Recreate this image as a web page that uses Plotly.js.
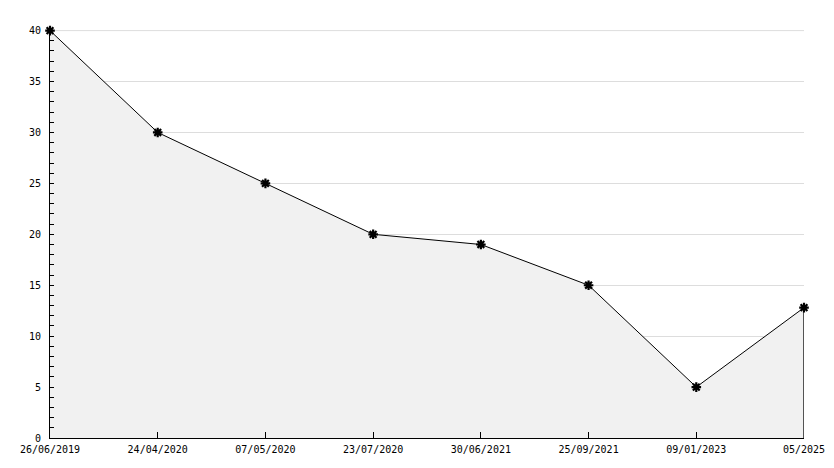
<!DOCTYPE html>
<html>
<head>
<meta charset="utf-8">
<script src="https://cdn.plot.ly/plotly-3.0.1.min.js"></script>
<style>html,body{margin:0;padding:0;background:#fff;}#chart{width:834px;height:468px;}</style>
</head>
<body>
<div id="chart"></div>
<script>
const dates = ["26/06/2019","24/04/2020","07/05/2020","23/07/2020","30/06/2021","25/09/2021","09/01/2023","05/2025"];
const values = [40, 30, 25, 20, 19, 15, 5, 12.8];
const yMax = 40;

const lastX = dates[dates.length-1];
const lastY = values[values.length-1];

const traces = [
  {
    x: dates, y: values, type: 'scatter', mode: 'lines+markers',
    fill: 'tozeroy', fillcolor: '#f1f1f1',
    line: {color: '#000', width: 1},
    marker: {symbol: 'asterisk-open', size: 8, color: '#000', line: {color: '#000', width: 2.2}},
    hoverinfo: 'x+y', cliponaxis: false
  },
  {
    x: [lastX, lastX], y: [0, lastY], type: 'scatter', mode: 'lines',
    line: {color: '#000', width: 1.3}, hoverinfo: 'skip', cliponaxis: false
  }
];

const font = {family: '"DejaVu Sans Mono", monospace', size: 10, color: '#000'};

const layout = {
  width: 834, height: 468,
  margin: {l: 50, r: 29.5, t: 30, b: 30},
  paper_bgcolor: '#fff', plot_bgcolor: '#fff',
  showlegend: false,
  font: font,
  shapes: [
    {type: 'line', xref: 'paper', x0: 0, x1: 1, yref: 'y', y0: yMax, y1: yMax,
     line: {color: '#dddddd', width: 1}, layer: 'below'}
  ],
  xaxis: {
    type: 'category', range: [0, dates.length-1],
    showgrid: false, zeroline: false,
    showline: true, linecolor: '#000', linewidth: 1,
    ticks: 'inside', ticklen: 6, tickcolor: '#000', tickwidth: 1,
    ticklabelstandoff: 2,
    tickfont: font, automargin: false
  },
  yaxis: {
    range: [0, yMax + 0.06], dtick: 5, tick0: 0,
    showgrid: true, gridcolor: '#dddddd', gridwidth: 1,
    zeroline: false,
    showline: true, linecolor: '#000', linewidth: 1,
    ticks: 'inside', ticklen: 4, tickcolor: '#000', tickwidth: 1,
    ticklabelstandoff: 6,
    minor: {dtick: 1, ticks: 'inside', ticklen: 4, tickcolor: '#000', showgrid: false},
    tickfont: font, automargin: false
  }
};

Plotly.newPlot('chart', traces, layout, {displayModeBar: false, staticPlot: true});
</script>
</body>
</html>
